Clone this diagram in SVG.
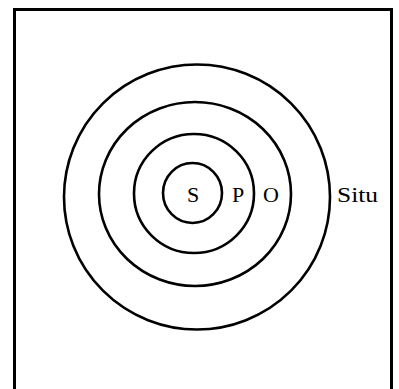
<svg xmlns="http://www.w3.org/2000/svg" width="399" height="389" viewBox="0 0 399 389">
<style>
.ring{fill:none;stroke:#000;stroke-width:2.6}
.lbl{font-family:"Liberation Serif",serif;font-size:22px;fill:#000}
</style>
<rect width="399" height="389" fill="#fff"/>
<path d="M14.5 392 V9.5 H391.5 V392" fill="none" stroke="#000" stroke-width="3"/>
<g id="situ"><ellipse class="ring" cx="197" cy="197" rx="133" ry="132.5"/><text class="lbl" x="337" y="202" textLength="41" lengthAdjust="spacingAndGlyphs">Situ</text></g>
<g id="o"><ellipse class="ring" cx="195" cy="194" rx="96" ry="92"/><text class="lbl" x="271" y="202" text-anchor="middle">O</text></g>
<g id="p"><ellipse class="ring" cx="194" cy="193.5" rx="60" ry="59.5"/><text class="lbl" x="238" y="202" text-anchor="middle">P</text></g>
<g id="s"><ellipse class="ring" cx="192.5" cy="193" rx="29.5" ry="30"/><text class="lbl" x="193" y="202" text-anchor="middle">S</text></g>
<g id="connectors"/>
</svg>
